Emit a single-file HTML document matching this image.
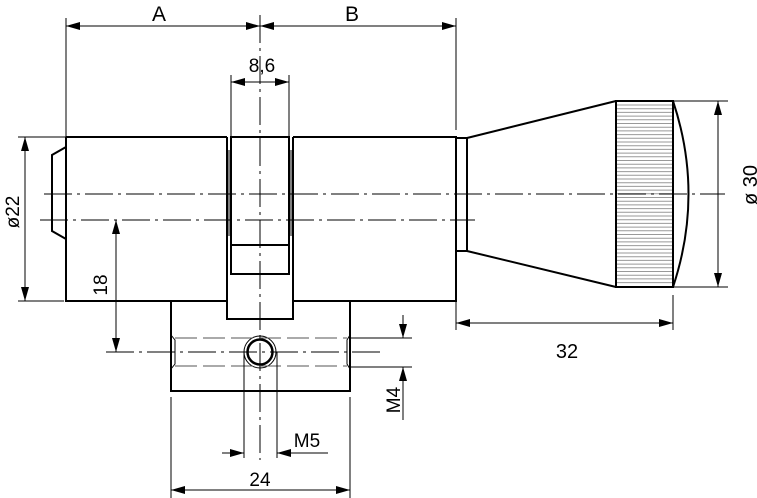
<!DOCTYPE html>
<html><head><meta charset="utf-8"><style>html,body{margin:0;padding:0;background:#fff}svg{display:block}text{font-family:"Liberation Sans",sans-serif;fill:#000}</style></head><body>
<svg width="757" height="498" viewBox="0 0 757 498" xmlns="http://www.w3.org/2000/svg">
<defs>
<marker id="a" viewBox="0 0 14 8" refX="14" refY="4" markerWidth="14" markerHeight="8" markerUnits="userSpaceOnUse" orient="auto-start-reverse"><path d="M0,0 L14,4 L0,8 Z" fill="#000"/></marker>
</defs>
<g fill="none" stroke="#000" stroke-width="2">
<path d="M66,137 H227 M66,137 V301 H227"/>
<path d="M66,147 L52,155 V231 L66,239"/>
<path d="M227,137 V319 H293 V137"/>
<path d="M231,137 H289 V274 H231 Z M231,245 H289"/>
<path d="M229,150 V236 M291,150 V236" stroke-width="1"/>
<path d="M293,137 H456 V301 H293"/>
<path d="M171,301 V391 H350 V301"/>
<path d="M456,138 H467 V251 H456"/>
<path d="M467,138 L616,101 M467,251 L616,287"/>
<path d="M616,101 V287 H673 V101 Z"/>
<path d="M673,101 Q704,194 673,287"/>
<circle cx="260" cy="352" r="12.5" stroke-width="2.5"/>
</g>
<g stroke="#999" stroke-width="1">
<path d="M617,105H672M617,108.7H672M617,112.4H672M617,116.1H672M617,119.8H672M617,123.5H672M617,127.2H672M617,130.9H672M617,134.6H672M617,138.3H672M617,142H672M617,145.7H672M617,149.4H672M617,153.1H672M617,156.8H672M617,160.5H672M617,164.2H672M617,167.9H672M617,171.6H672M617,175.3H672M617,179H672M617,182.7H672M617,186.4H672M617,190.1H672M617,193.8H672M617,197.5H672M617,201.2H672M617,204.9H672M617,208.6H672M617,212.3H672M617,216H672M617,219.7H672M617,223.4H672M617,227.1H672M617,230.8H672M617,234.5H672M617,238.2H672M617,241.9H672M617,245.6H672M617,249.3H672M617,253H672M617,256.7H672M617,260.4H672M617,264.1H672M617,267.8H672M617,271.5H672M617,275.2H672M617,278.9H672M617,282.6H672"/>
</g>
<g fill="none" stroke="#000" stroke-width="1">
<circle cx="260" cy="352" r="16"/>
<path d="M44,194 H725" stroke-dasharray="28,5,3,5"/>
<path d="M40,220 H475" stroke-dasharray="28,5,3,5"/>
<path d="M260,15 V460" stroke-dasharray="28,5,3,5"/>
<path d="M106,352 H380" stroke-dasharray="28,5,3,5"/>
<path d="M175,338 H347 M175,366 H347" stroke-dasharray="22,6" stroke="#555"/>
<path d="M171,335 L175,340 V364 L171,369 M350,335 L347,340 V364 L350,369"/>
<path d="M66,18 V137 M456,18 V130"/>
<path d="M66,26 H260" marker-start="url(#a)" marker-end="url(#a)"/>
<path d="M260,26 H456" marker-start="url(#a)" marker-end="url(#a)"/>
<path d="M231,75 V137 M289,75 V137"/>
<path d="M231,82 H289" marker-start="url(#a)" marker-end="url(#a)"/>
<path d="M18,137 H66 M18,301 H64"/>
<path d="M25,137 V301" marker-start="url(#a)" marker-end="url(#a)"/>
<path d="M116,220 V352" marker-start="url(#a)" marker-end="url(#a)"/>
<path d="M350,338 H412 M350,367 H412"/>
<path d="M403,315 V338" marker-end="url(#a)"/>
<path d="M403,420 V367" marker-end="url(#a)"/>
<path d="M244,352 V458 M277,352 V458"/>
<path d="M222,453 H244" marker-end="url(#a)"/>
<path d="M328,453 H277" marker-end="url(#a)"/>
<path d="M171,397 V498 M350,397 V498"/>
<path d="M171,490 H350" marker-start="url(#a)" marker-end="url(#a)"/>
<path d="M673,101 H728 M673,287 H728"/>
<path d="M718,101 V287" marker-start="url(#a)" marker-end="url(#a)"/>
<path d="M456,301 V330 M673,295 V330"/>
<path d="M456,323 H673" marker-start="url(#a)" marker-end="url(#a)"/>
</g>
<g font-size="21">
<text x="159" y="21" text-anchor="middle">A</text>
<text x="352" y="21" text-anchor="middle">B</text>
<text x="262" y="72" text-anchor="middle" font-size="19">8,6</text>
<text x="567" y="358" text-anchor="middle" font-size="20">32</text>
<text x="260" y="486" text-anchor="middle" font-size="19">24</text>
<text x="307" y="447" text-anchor="middle" font-size="19">M5</text>
<text transform="translate(19,212) rotate(-90)" text-anchor="middle" font-size="19">ø22</text>
<text transform="translate(107,285) rotate(-90)" text-anchor="middle" font-size="19">18</text>
<text transform="translate(400,400) rotate(-90)" text-anchor="middle" font-size="19">M4</text>
<text transform="translate(757,185) rotate(-90)" text-anchor="middle" font-size="20">ø 30</text>
</g>
</svg>
</body></html>
